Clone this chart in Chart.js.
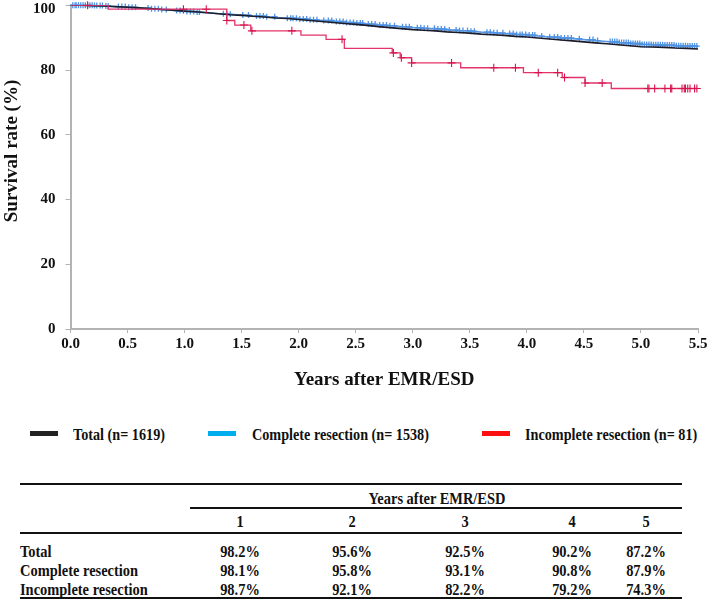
<!DOCTYPE html>
<html><head><meta charset="utf-8">
<script src="https://cdn.jsdelivr.net/npm/chart.js@4.4.1/dist/chart.umd.min.js"></script>
<style>
html,body{margin:0;padding:0;background:#fff;}
body{width:709px;height:601px;position:relative;overflow:hidden;font-family:'Liberation Serif','Times New Roman',serif;font-weight:bold;color:#111;}
#c{position:absolute;left:0;top:0;}
.t{position:absolute;white-space:nowrap;line-height:1;}
.sw{position:absolute;height:5px;width:28px;}
.hl{position:absolute;background:#111;}
</style>
</head><body>
<canvas id="c" width="709" height="395"></canvas>
<div id="overlay"></div>
<script>
// ---------- data ----------
const xTicks = [0,0.5,1,1.5,2,2.5,3,3.5,4,4.5,5,5.5];
const yTicks = [0,20,40,60,80,100];

const totalTimes = [0,0.1,0.2,0.3,0.4,0.5,0.6,0.7,0.8,0.9,1.0,1.1,1.2,1.3,1.4,1.5,1.6,1.7,1.8,1.9,2.0,2.1,2.2,2.3,2.4,2.5,2.6,2.7,2.8,2.9,3.0,3.1,3.2,3.3,3.4,3.5,3.6,3.7,3.8,3.9,4.0,4.1,4.2,4.3,4.4,4.5,4.6,4.7,4.8,4.9,5.0,5.1,5.2,5.3,5.4,5.5];
const totalSurv  = [100,100,99.9,99.8,99.6,99.4,99.2,99.0,98.7,98.5,98.2,98.0,97.7,97.4,97.1,96.9,96.6,96.4,96.1,95.9,95.6,95.3,95.0,94.7,94.4,94.1,93.8,93.4,93.1,92.8,92.5,92.3,92.1,91.8,91.6,91.4,91.1,90.9,90.7,90.4,90.2,89.9,89.6,89.3,89.0,88.7,88.4,88.1,87.8,87.5,87.2,87.1,87.0,86.8,86.7,86.5];

const completeTimes = totalTimes;
const completeSurv  = [100,100,99.9,99.8,99.6,99.4,99.2,98.9,98.7,98.4,98.1,97.9,97.7,97.4,97.2,97.0,96.7,96.5,96.2,96.0,95.8,95.5,95.3,95.0,94.7,94.5,94.2,93.9,93.7,93.4,93.1,92.9,92.7,92.4,92.2,92.0,91.7,91.5,91.3,91.0,90.8,90.5,90.2,89.9,89.7,89.4,89.1,88.8,88.5,88.2,87.9,87.8,87.7,87.5,87.4,87.3];
const completeCensor = [0.02,0.04,0.05,0.07,0.09,0.11,0.13,0.15,0.17,0.19,0.21,0.23,0.26,0.28,0.31,0.33,
 0.42,0.45,0.48,0.51,0.54,0.57,0.68,0.71,0.74,0.77,0.80,0.84,0.93,0.96,0.99,1.02,1.05,1.08,1.11,1.13,
 1.34,1.37,1.40,1.51,1.56,1.63,1.66,1.69,1.72,1.79,1.90,1.93,1.95,1.98,2.01,2.04,2.07,2.10,2.13,2.16,
 2.22,2.26,2.29,2.33,2.36,2.39,2.42,2.45,2.48,2.51,2.54,2.56,2.61,2.64,2.67,2.71,2.74,2.77,2.80,2.84,
 2.91,2.94,2.97,3.04,3.07,3.10,3.13,3.19,3.22,3.25,3.28,3.32,3.38,3.41,3.44,3.48,3.51,3.54,
 3.65,3.68,3.71,3.74,3.79,3.85,3.88,3.91,3.94,3.96,3.99,4.02,4.05,4.07,4.13,4.20,4.24,
 4.27,4.30,4.33,4.36,4.39,4.46,4.55,4.58,4.62,
 4.73,4.75,4.77,4.79,4.81,4.83,4.85,4.87,4.89,4.91,4.93,4.95,4.97,4.99,5.01,5.03,5.05,5.07,5.09,5.11,
 5.13,5.15,5.17,5.19,5.21,5.23,5.25,5.27,5.29,5.31,5.33,5.35,5.37,5.39,5.41,5.43,5.45,5.47,5.49];

const incompleteTimes = [0,0.33,1.37,1.44,1.58,2.02,2.24,2.40,2.82,2.89,2.99,3.42,3.97,4.31,4.51,4.74,5.5];
const incompleteSurv  = [100,98.8,95.3,93.9,92.1,90.8,89.5,86.7,85.3,83.8,82.2,80.7,79.2,77.7,76.0,74.3,74.3];
const incompleteCensor = [0.15,0.99,1.19,1.37,1.52,1.59,1.94,2.38,2.83,2.90,2.99,3.34,3.71,3.90,4.10,4.27,4.33,4.51,4.66,
 5.06,5.07,5.12,5.21,5.26,5.27,5.36,5.38,5.39,5.41,5.43,5.47,5.49];

const legendLabels = ['Total (n= 1619)','Complete resection (n= 1538)','Incomplete resection (n= 81)'];
const tableYears = ['1','2','3','4','5'];
const tableRows = ['Total','Complete resection','Incomplete resection'];
const tableTotal = ['98.2%','95.6%','92.5%','90.2%','87.2%'];
const tableComplete = ['98.1%','95.8%','93.1%','90.8%','87.9%'];
const tableIncomplete = ['98.7%','92.1%','82.2%','79.2%','74.3%'];

// ---------- helpers ----------
function pts(t,v){return t.map((x,i)=>({x:x,y:v[i]}));}
function valueAt(t,times,vals){let v=vals[0];for(let i=0;i<times.length;i++){if(times[i]<=t+1e-9)v=vals[i];}return v;}
function censorPts(c,times,vals){return c.map(t=>({x:t,y:valueAt(t,times,vals)}));}

const FONT='"Liberation Serif","Times New Roman",serif';
const AXIS='#b3b3b3';

const yTitlePlugin={id:'ytitle',afterDraw(chart){
  const ctx=chart.ctx;ctx.save();
  ctx.fillStyle='#111';ctx.font='bold 19px '+FONT;
  ctx.translate(12,151);ctx.rotate(-Math.PI/2);
  ctx.textAlign='center';ctx.textBaseline='middle';
  ctx.fillText('Survival rate (%)',0,0);ctx.restore();
  // top tick label kept inside the canvas
  ctx.save();ctx.fillStyle='#111';ctx.font='bold 15px '+FONT;ctx.textAlign='right';ctx.textBaseline='middle';
  ctx.fillText(String(yTicks[yTicks.length-1]),chart.scales.y.left+chart.scales.y.width-15,9);ctx.restore();
}};

new Chart(document.getElementById('c'),{
  type:'scatter',
  data:{datasets:[
    {label:'Incomplete censored',data:censorPts(incompleteCensor,incompleteTimes,incompleteSurv),showLine:false,
      pointStyle:'cross',pointRadius:4,borderColor:'#d6144e',borderWidth:1.1,order:0,clip:false},
    {label:legendLabels[2],data:pts(incompleteTimes,incompleteSurv),showLine:true,stepped:'before',
      borderColor:'#e3336a',borderWidth:1.3,pointRadius:0,order:1},
    {label:legendLabels[0],data:pts(totalTimes,totalSurv),showLine:true,borderColor:'#1c1c2a',borderWidth:1.6,
      pointRadius:0,order:2},
    {label:'Complete censored',data:censorPts(completeCensor,completeTimes,completeSurv),showLine:false,
      pointStyle:'cross',pointRadius:3,borderColor:'#4f92e3',borderWidth:1.3,order:3,clip:false},
    {label:legendLabels[1],data:pts(completeTimes,completeSurv),showLine:true,borderColor:'#5b9be6',borderWidth:1.6,
      pointRadius:0,order:4}
  ]},
  options:{
    responsive:false,animation:false,
    layout:{padding:{left:0,right:11,top:3.5,bottom:0}},
    plugins:{legend:{display:false},tooltip:{enabled:false}},
    scales:{
      x:{type:'linear',min:0,max:5.5,
        afterBuildTicks(s){s.ticks=xTicks.map(v=>({value:v}));},
        afterFit(s){s.height=66;s.paddingLeft=0;s.paddingRight=0;},
        border:{display:true,color:AXIS,width:2},
        grid:{display:true,drawOnChartArea:false,drawTicks:true,tickLength:4,color:AXIS,lineWidth:1},
        ticks:{color:'#111',font:{family:FONT,size:15,weight:'bold'},padding:2,maxRotation:0,
          callback:(v)=>Number(v).toFixed(1)},
        title:{display:true,text:'Years after EMR/ESD',color:'#111',font:{family:FONT,size:19,weight:'bold'},padding:{top:0,bottom:4}}
      },
      y:{type:'linear',min:0,max:100,
        afterBuildTicks(s){s.ticks=yTicks.map(v=>({value:v}));},
        afterFit(s){s.width=70.5;s.paddingTop=0;s.paddingBottom=0;},
        border:{display:true,color:AXIS,width:2},
        grid:{display:true,drawOnChartArea:false,drawTicks:true,tickLength:5,color:AXIS,lineWidth:1},
        ticks:{color:'#111',font:{family:FONT,size:15,weight:'bold'},padding:10,
          callback:(v)=>v===yTicks[yTicks.length-1]?'':String(v)}
      }
    }
  },
  plugins:[yTitlePlugin]
});

// ---------- legend & table (HTML text) ----------
const ov=document.getElementById('overlay');
function txt(s,x,y,size,opts){opts=opts||{};const d=document.createElement('div');d.className='t';d.textContent=s;
  d.style.fontSize=size+'px';d.style.top=(y-size/2)+'px';
  const sx=opts.sx||0.85;
  if(opts.center){d.style.left=(x-100)+'px';d.style.width='200px';d.style.textAlign='center';d.style.transform='scaleX('+sx+')';}
  else{d.style.left=x+'px';d.style.transformOrigin='left center';d.style.transform='scaleX('+sx+')';}
  ov.appendChild(d);}
function hline(x1,x2,y,w){const d=document.createElement('div');d.className='hl';d.style.left=x1+'px';d.style.width=(x2-x1)+'px';d.style.top=(y-w/2)+'px';d.style.height=w+'px';ov.appendChild(d);}
const legColors=['#222222','#00aeef','#ff1010'];
const legSwX=[30,208,482], legTxX=[73,252,525];
legendLabels.forEach((l,i)=>{const s=document.createElement('div');s.className='sw';s.style.left=legSwX[i]+'px';s.style.top='431px';s.style.background=legColors[i];ov.appendChild(s);
  txt(l,legTxX[i],434,17,{sx:0.835});});

hline(20,682,484,2);
txt('Years after EMR/ESD',437,498,17,{center:true,sx:0.85});
hline(190,682,508,1.3);
const colX=[240,352,465,572,646];
tableYears.forEach((y,i)=>txt(y,colX[i],521,17,{center:true,sx:0.85}));
hline(20,682,533,1.6);
[tableTotal,tableComplete,tableIncomplete].forEach((row,r)=>{
  const yy=551+r*19;
  txt(tableRows[r],20,yy,17,{sx:0.85});
  row.forEach((v,i)=>txt(v,colX[i],yy,17,{center:true,sx:0.85}));
});
hline(20,682,598,2);
</script>
</body></html>
